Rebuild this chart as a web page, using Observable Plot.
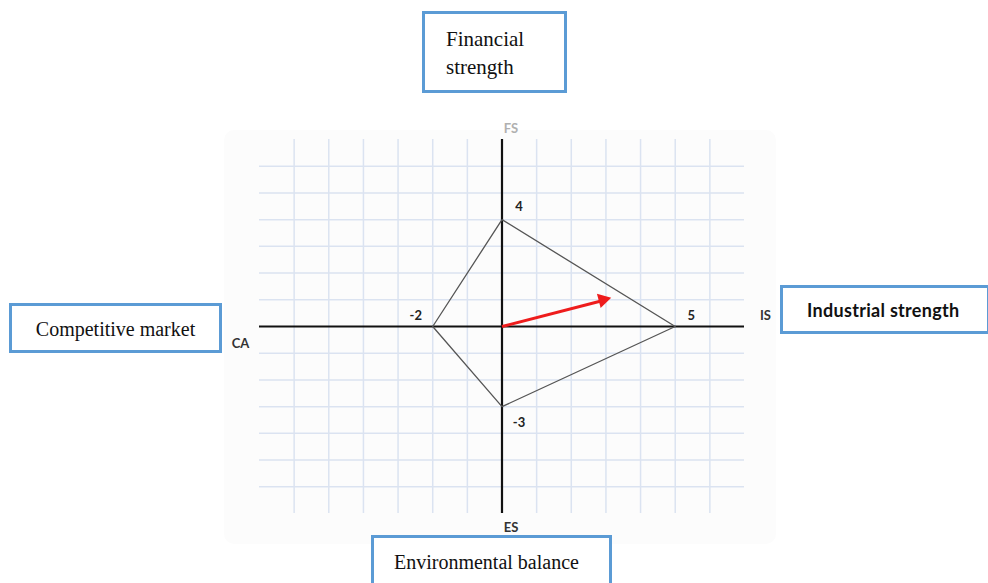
<!DOCTYPE html>
<html>
<head>
<meta charset="utf-8">
<script src="https://cdn.jsdelivr.net/npm/d3@7"></script>
<script src="https://cdn.jsdelivr.net/npm/@observablehq/plot@0.6"></script>
<style>
  html, body { margin: 0; padding: 0; background: #fff; overflow: hidden; }
  #wrap { position: relative; width: 988px; height: 583px; }
  #bg { position: absolute; left: 224px; top: 130px; width: 552px; height: 414px; background: #fcfcfc; border-radius: 10px; }
  #chart { position: absolute; left: 0; top: 0; }
  .box { position: absolute; box-sizing: border-box; border: 3px solid #5b9bd5; background: #fff; color: #111; white-space: nowrap; }
  .serif { font-family: "Liberation Serif", "DejaVu Serif", serif; font-size: 20px; }
  .sans { font-family: Lato, "Open Sans", sans-serif; font-size: 18px; font-weight: bold; letter-spacing: 0.3px; }
</style>
</head>
<body>
<div id="wrap">
  <div id="bg"></div>
  <div id="chart"></div>
</div>
<script>
// Axis categories and their values
const axes = ["FS", "IS", "ES", "CA"];
const values = [4, 5, -3, -2];
const tickLabels = ["4", "5", "-3", "-2"];
const gridLines = [-6, -5, -4, -3, -2, -1, 1, 2, 3, 4, 5, 6];
const boxTitles = ["Financial strength", "Industrial strength", "Environmental balance", "Competitive market"];
// Resulting vector (sum of opposing axes)
const resultant = [{x1: 0, y1: 0, x2: values[1] + values[3], y2: values[0] + values[2]}];

const isHorizontal = a => a === "IS" || a === "CA";
const pts = axes.map((a, i) => ({
  axis: a, label: tickLabels[i],
  x: isHorizontal(a) ? values[i] : 0,
  y: isHorizontal(a) ? 0 : values[i]
}));
const order = ["FS", "IS", "ES", "CA", "FS"];
const poly = order.map(a => pts.find(p => p.axis === a));

const tickOffsets = {FS: [17, -13], IS: [16, -11], ES: [17, 16], CA: [-17, -11]};

const xs = Plot.scale({x: {domain: [-7, 7], range: [259, 744]}});
const ys = Plot.scale({y: {domain: [-7, 7], range: [513, 139]}});
const r = resultant[0];
const angle = Math.atan2(-(ys.apply(r.y2) - ys.apply(r.y1)), xs.apply(r.x2) - xs.apply(r.x1)) * 180 / Math.PI;

const endLabels = [
  {t: "FS", x: 0, y: 7, dx: 9, dy: -11, fill: "#b0b0b0"},
  {t: "IS", x: 7, y: 0, dx: 21, dy: -11, fill: "#333"},
  {t: "ES", x: 0, y: -7, dx: 9, dy: 14, fill: "#333"},
  {t: "CA", x: -7, y: 0, dx: -19, dy: 17, fill: "#333"}
];

const marks = [
  Plot.ruleX(gridLines, {y1: -7, y2: 7, stroke: "#dbe3f1", strokeWidth: 1.5}),
  Plot.ruleY(gridLines, {x1: -7, x2: 7, stroke: "#dbe3f1", strokeWidth: 1.5}),
  Plot.ruleX([0], {y1: -7, y2: 7, stroke: "#111", strokeWidth: 2.2}),
  Plot.ruleY([0], {x1: -7, x2: 7, stroke: "#111", strokeWidth: 2.2}),
  Plot.line(poly, {x: "x", y: "y", stroke: "#555", strokeWidth: 1.3}),
  Plot.link(resultant, {x1: "x1", y1: "y1", x2: "x2", y2: "y2", stroke: "#ee1c1c", strokeWidth: 3}),
  Plot.dot(resultant, {x: "x2", y: "y2", symbol: "triangle", r: 5.5, fill: "#ee1c1c", stroke: "none", rotate: 90 - angle, dx: -3}),
  ...pts.map(p => Plot.text([p], {x: "x", y: "y", text: "label", dx: tickOffsets[p.axis][0], dy: tickOffsets[p.axis][1], fontWeight: "bold", fontSize: 13, fill: "#222"})),
  ...endLabels.map(l => Plot.text([l], {x: "x", y: "y", text: "t", dx: l.dx, dy: l.dy, fontWeight: "bold", fontSize: 13, fill: l.fill}))
];

const plot = Plot.plot({
  width: 988,
  height: 583,
  marginLeft: 259,
  marginRight: 244,
  marginTop: 139,
  marginBottom: 70,
  style: {fontFamily: "Lato, 'Open Sans', sans-serif", background: "transparent"},
  x: {domain: [-7, 7], axis: null},
  y: {domain: [-7, 7], axis: null},
  marks
});
document.getElementById("chart").appendChild(plot);

// Title boxes around the chart
const wrap = document.getElementById("wrap");
const boxes = [
  {t: boxTitles[0], cls: "serif", css: "left:422px;top:11px;width:145px;height:82px;padding:11px 0 0 21px;line-height:28px;white-space:normal;width:145px;font-size:21px;"},
  {t: boxTitles[1], cls: "sans", css: "left:780px;top:285px;width:210px;height:49px;padding:11px 0 0 24px;"},
  {t: boxTitles[2], cls: "serif", css: "left:371px;top:535px;width:241px;height:60px;padding:13px 0 0 20px;"},
  {t: boxTitles[3], cls: "serif", css: "left:9px;top:303px;width:213px;height:50px;padding:12px 0 0 0;text-align:center;"}
];
for (const b of boxes) {
  const d = document.createElement("div");
  d.className = "box " + b.cls;
  d.style.cssText = b.css;
  d.textContent = b.t;
  wrap.appendChild(d);
}
</script>
</body>
</html>
